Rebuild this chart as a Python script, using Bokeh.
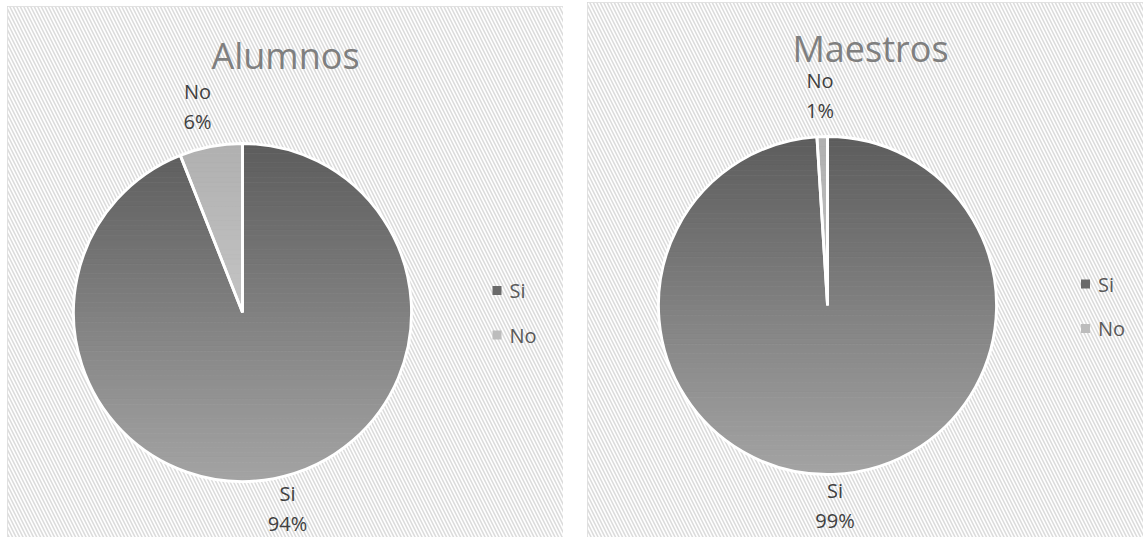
import numpy as np
from bokeh.plotting import figure
from bokeh.layouts import row
from bokeh.models import BoxAnnotation, Range1d
from bokeh.core.properties import value
from bokeh.embed import file_html
from bokeh.resources import INLINE

# ---- data ----
categories = ["Si", "No"]
alumnos = [94, 6]
maestros = [99, 1]
titles = ["Alumnos", "Maestros"]

# ---- style ----
W = 556
R = 169
FONT = value("Open Sans")
TOP = {"Si": (0x5c, 0x5c, 0x5c), "No": (0xb0, 0xb0, 0xb0)}
BOT = {"Si": (0xa4, 0xa4, 0xa4), "No": (0xd8, 0xd8, 0xd8)}
LEG = {"Si": "#6a6a6a", "No": "#bcbcbc"}


def hexc(c):
    return "#%02x%02x%02x" % tuple(int(round(v)) for v in c)


def clip(poly, y, keep_above):
    out = []
    n = len(poly)
    for i in range(n):
        cx, cy = poly[i]
        px, py = poly[i - 1]
        cin = cy >= y if keep_above else cy <= y
        pin = py >= y if keep_above else py <= y
        if cin:
            if not pin:
                t = (y - py) / (cy - py)
                out.append((px + t * (cx - px), y))
            out.append((cx, cy))
        elif pin:
            t = (y - py) / (cy - py)
            out.append((px + t * (cx - px), y))
    return out


def make_panel(title, values, H, margin, cx, cy, title_xy, leg_xy):
    p = figure(width=W, height=H, x_range=Range1d(0, W), y_range=Range1d(0, H),
               min_border=0, output_backend="svg", toolbar_location=None,
               margin=margin)
    p.axis.visible = False
    p.grid.visible = False
    p.outline_line_color = "#d9d9d9"
    p.outline_line_width = 2
    p.add_layout(BoxAnnotation(fill_color="white", fill_alpha=1.0, line_alpha=0,
                               hatch_pattern="\\", hatch_color="#dcdcdc",
                               hatch_scale=7, hatch_weight=1.6, level="underlay"))

    total = float(sum(values))
    cum = np.concatenate([[0], np.cumsum(values)]) / total
    starts = np.pi / 2 - cum[:-1] * 2 * np.pi
    ends = np.pi / 2 - cum[1:] * 2 * np.pi

    nb = 70
    edges = np.linspace(cy + R, cy - R, nb + 1)
    for cat, a0, a1 in zip(categories, starts, ends):
        ang = np.linspace(a0, a1, 200)
        poly = [(cx, cy)] + [(cx + R * np.cos(a), cy + R * np.sin(a)) for a in ang]
        xs, ys, cols = [], [], []
        for i in range(nb):
            ytop, ybot = edges[i], edges[i + 1]
            pp = clip(clip(poly, ytop, False), ybot, True)
            if len(pp) < 3:
                continue
            t = (cy + R - 0.5 * (ytop + ybot)) / (2 * R)
            c = tuple(TOP[cat][k] + t * (BOT[cat][k] - TOP[cat][k]) for k in range(3))
            xs.append([q[0] for q in pp])
            ys.append([q[1] for q in pp])
            cols.append(hexc(c))
        p.patches(xs, ys, fill_color=cols, line_color=cols, line_width=0.8)

    p.wedge(x=cx, y=cy, radius=R, start_angle=starts, end_angle=ends,
            direction="clock", fill_alpha=0, line_color="white", line_width=2.8)

    mids = (starts + ends) / 2
    lx0 = cx + (R + 71) * np.cos(mids)
    ly0 = cy + (R + 36) * np.sin(mids) + 5
    p.text(x=lx0, y=ly0 + 15, text=categories,
           text_align="center", text_baseline="middle", text_font=FONT,
           text_font_size="20px", text_color="#404040")
    p.text(x=lx0, y=ly0 - 15, text=[f"{v}%" for v in values],
           text_align="center", text_baseline="middle", text_font=FONT,
           text_font_size="20px", text_color="#404040")

    p.text(x=[title_xy[0]], y=[title_xy[1]], text=[title], text_align="center",
           text_baseline="middle", text_font=FONT, text_font_size="36px",
           text_color="#7f7f7f")

    lx, ly = leg_xy
    ys_leg = [ly - 44.5 * i for i in range(len(categories))]
    p.scatter(x=[lx] * len(categories), y=ys_leg, marker="square", size=9,
              fill_color=[LEG[c] for c in categories], line_color=None)
    p.text(x=[lx + 12.5] * len(categories), y=ys_leg, text=categories,
           text_baseline="middle", text_font=FONT, text_font_size="20px",
           text_color="#595959")
    return p


p1 = make_panel(titles[0], alumnos, 531, (6, 0, 0, 7), 235, 225, (278, 482), (489.5, 247))
p2 = make_panel(titles[1], maestros, 535, (2, 0, 0, 24), 240, 232, (283, 489), (498, 253.5))

layout = row(p1, p2, spacing=0)
open("out.html", "w").write(file_html(layout, INLINE))
